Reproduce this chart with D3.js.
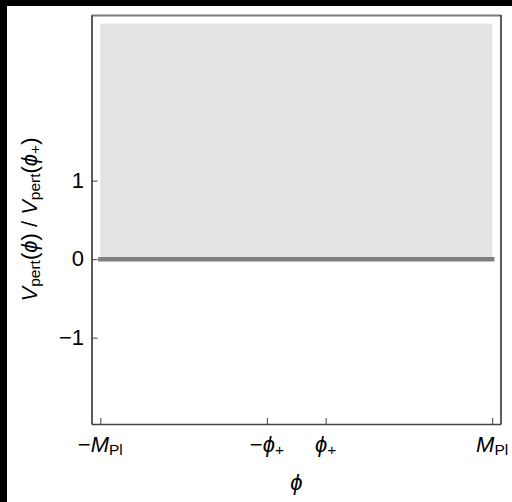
<!DOCTYPE html>
<html>
<head>
<meta charset="utf-8">
<script src="https://cdn.jsdelivr.net/npm/d3@7"></script>
<style>
  html, body { margin: 0; padding: 0; background: #ffffff; }
  svg { display: block; }
  text { font-family: "Liberation Sans", Arial, sans-serif; fill: #000; }
</style>
</head>
<body>
<svg id="chart" width="512" height="502"></svg>
<script>
// Field range in units of the Planck mass, and the potential's ticks
const xTickValues = [-1, -0.15, 0.15, 1];
const xTickSigns  = ["\u2212", "\u2212", "", ""];
const xTickMain   = ["M", "\u03D5", "\u03D5", "M"];
const xTickSubs   = ["Pl", "+", "+", "Pl"];
const yTickValues = [-1, 0, 1];
const yTickLabels = ["\u22121", "0", "1"];

// Allowed region (shaded) and the perturbative potential V_pert = 0 across the field range
const bandPhi = [-1, 1];
const bandV   = [0, 3];
const curvePhi = [-1, -0.15, 0.15, 1];
const curveV   = [0, 0, 0, 0];

const svg = d3.select("#chart");
const W = 512, H = 502;

const x = d3.scaleLinear().domain([-1.045, 1.045]).range([91.5, 501]);
const y = d3.scaleLinear().domain([-2.1, 3.11]).range([424, 15]);

// page edge bands
svg.append("rect").attr("x", 0).attr("y", 0).attr("width", W).attr("height", H).attr("fill", "#fff");
svg.append("rect").attr("x", 0).attr("y", 0).attr("width", 7).attr("height", H).attr("fill", "#000");
svg.append("rect").attr("x", 0).attr("y", 0).attr("width", W).attr("height", 6).attr("fill", "#000");

// shaded region
svg.append("rect")
  .attr("x", x(bandPhi[0]))
  .attr("y", y(bandV[1]))
  .attr("width", x(bandPhi[1]) - x(bandPhi[0]))
  .attr("height", y(bandV[0]) - y(bandV[1]))
  .attr("fill", "#e3e3e3");

// potential curve
const line = d3.line().x((d, i) => x(curvePhi[i])).y(d => y(d));
svg.append("path")
  .attr("d", line(curveV))
  .attr("fill", "none")
  .attr("stroke", "#808080")
  .attr("stroke-width", 4.5)
  .attr("stroke-linecap", "square");

// frame
const [x0, x1] = x.range();
const [y0, y1] = y.range();
svg.append("line").attr("x1", x0).attr("x2", x1).attr("y1", y1 + 0.5).attr("y2", y1 + 0.5)
  .attr("stroke", "#7a7a7a").attr("stroke-width", 2);
svg.append("line").attr("x1", x1).attr("x2", x1).attr("y1", y1).attr("y2", y0)
  .attr("stroke", "#333").attr("stroke-width", 1.6);

// bottom axis, ticks pointing inward
const xAxis = d3.axisBottom(x).tickValues(xTickValues).tickSizeInner(-6).tickSizeOuter(0).tickFormat("");
const gx = svg.append("g").attr("transform", `translate(0,${y0})`).call(xAxis);
gx.select(".domain").attr("stroke", "#444").attr("stroke-width", 1.5);
gx.selectAll(".tick line").attr("stroke", "#444");

const yAxis = d3.axisLeft(y).tickValues(yTickValues).tickSizeInner(-6).tickSizeOuter(0).tickFormat("");
const gy = svg.append("g").attr("transform", `translate(${x0},0)`).call(yAxis);
gy.select(".domain").attr("stroke", "#333").attr("stroke-width", 1.6);
gy.selectAll(".tick line").attr("stroke", "#444");

const FS = 22;
const SUB = 15.5;

// x tick labels
xTickValues.forEach((v, i) => {
  const t = svg.append("text")
    .attr("x", x(v)).attr("y", 452)
    .attr("text-anchor", "middle")
    .style("font-size", FS + "px");
  if (xTickSigns[i]) t.append("tspan").text(xTickSigns[i]);
  t.append("tspan").style("font-style", "italic").text(xTickMain[i]);
  t.append("tspan").attr("dy", 3).style("font-size", SUB + "px").text(xTickSubs[i]);
});

// y tick labels
yTickValues.forEach((v, i) => {
  svg.append("text")
    .attr("x", 84).attr("y", y(v) + 7)
    .attr("text-anchor", "end")
    .style("font-size", FS + "px")
    .text(yTickLabels[i]);
});

// axis titles
svg.append("text")
  .attr("x", x(0)).attr("y", 490)
  .attr("text-anchor", "middle")
  .style("font-size", FS + "px")
  .style("font-style", "italic")
  .text("\u03D5");

const yt = svg.append("text")
  .attr("transform", `translate(37,${(y0 + y1) / 2}) rotate(-90)`)
  .attr("text-anchor", "middle")
  .style("font-size", FS + "px");
const sub = (s) => yt.append("tspan").attr("dy", 3).style("font-size", SUB + "px").text(s);
yt.append("tspan").style("font-style", "italic").text("V");
sub("pert");
yt.append("tspan").attr("dy", -3).text("(");
yt.append("tspan").style("font-style", "italic").text("\u03D5");
yt.append("tspan").text(") / ");
yt.append("tspan").style("font-style", "italic").text("V");
sub("pert");
yt.append("tspan").attr("dy", -3).text("(");
yt.append("tspan").style("font-style", "italic").text("\u03D5");
sub("+");
yt.append("tspan").attr("dy", -3).text(")");
</script>
</body>
</html>
